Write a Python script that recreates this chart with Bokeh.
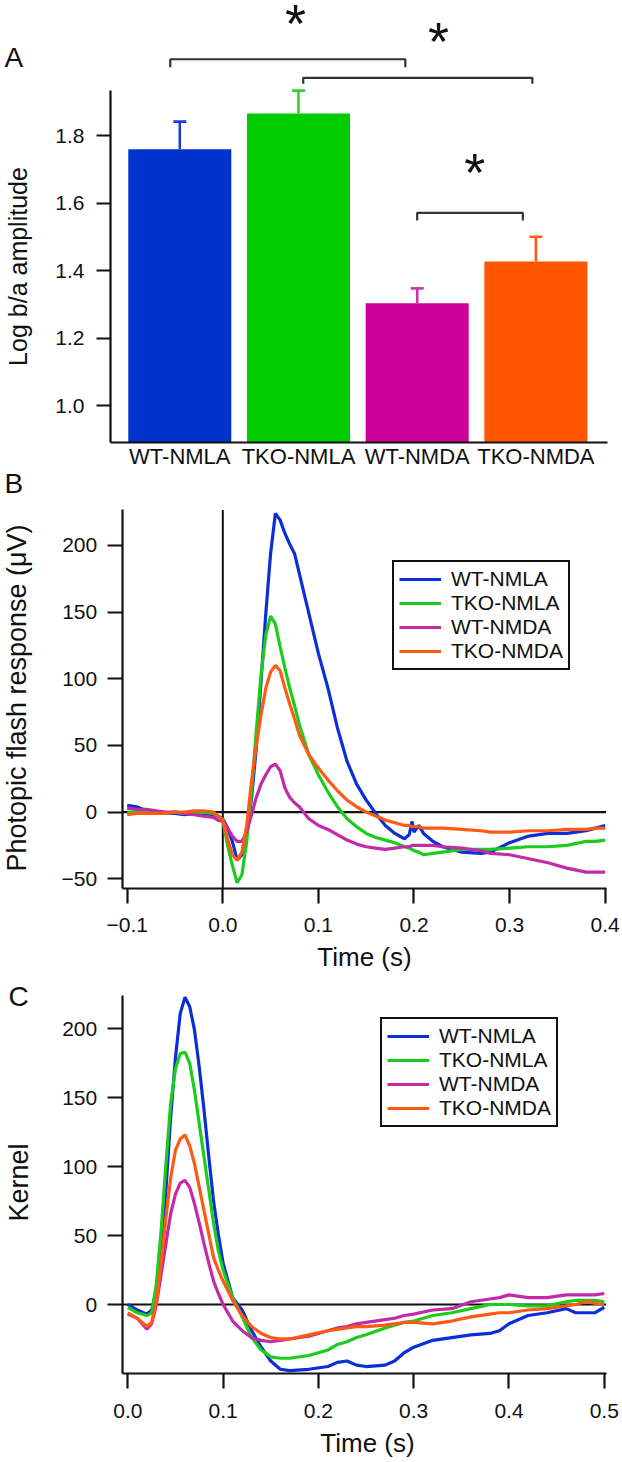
import math
from bokeh.plotting import figure
from bokeh.layouts import column
from bokeh.models import (FixedTicker, NumeralTickFormatter, Legend, LegendItem,
                          Label, ColumnDataSource)
from bokeh.core.properties import value
from bokeh.embed import file_html
from bokeh.resources import INLINE

FONT = "Liberation Sans"

# ---------------- Panel A data ----------------
groups = ["WT-NMLA", "TKO-NMLA", "WT-NMDA", "TKO-NMDA"]
bar_means = [1.759, 1.865, 1.303, 1.427]
bar_se = [0.082, 0.068, 0.044, 0.073]
bar_colors = ["#0033cc", "#00cc00", "#cc0099", "#ff5500"]
err_colors = ["#1a3fd0", "#33cc33", "#cc33aa", "#ff5a1a"]
a_yticks = [1.0, 1.2, 1.4, 1.6, 1.8]
a_ylim = (0.891, 1.933)
a_xlim = (-0.584, 3.607)
# significance brackets (group index span, bracket level)
br_x0 = [-0.08, 1.04, 2.00]
br_x1 = [1.90, 2.97, 2.89]
br_y = [2.026, 1.971, 1.571]
br_drop = [0.024, 0.018, 0.023]
star_x = [0.975, 2.18, 2.485]
star_y = [2.147, 2.096, 1.706]

# ---------------- Panel B data ----------------
tB = [-0.1, -0.09, -0.08, -0.07, -0.06, -0.05, -0.04, -0.03, -0.02, -0.01, -0.005, 0.0,
      0.005, 0.01, 0.015, 0.02, 0.025, 0.03, 0.035, 0.04, 0.045, 0.05, 0.055, 0.06,
      0.065, 0.07, 0.075, 0.08, 0.09, 0.1, 0.11, 0.12, 0.13, 0.14, 0.15, 0.16, 0.17,
      0.18, 0.19, 0.195, 0.198, 0.2, 0.205, 0.21, 0.22, 0.23, 0.25, 0.27, 0.28, 0.3,
      0.32, 0.34, 0.36, 0.38, 0.39, 0.4]
b_wt_nmla = [5, 4, 1, 0, -1, -1, -2, -1, -1, -2, -3, -5,
             -12, -22, -36, -32, -15, 10, 48, 98, 149, 194, 224, 219,
             209, 201, 194, 179, 149, 119, 93, 63, 38, 21, 9, -1, -10,
             -16, -20, -17, -7, -15, -10, -16, -22, -26, -30, -31, -30, -23,
             -18, -16, -16, -14, -12, -10]
b_tko_nmla = [0, 0, 0, -1, -1, 0, -1, -1, 0, -1, -3, -6,
              -25, -40, -53, -47, -22, 15, 61, 103, 133, 147, 141, 124,
              108, 93, 80, 66, 43, 28, 15, 4, -5, -11, -16, -19, -21,
              -23, -26, -27, -28, -29, -30, -32, -31, -30, -28, -28, -28, -27,
              -26, -26, -25, -22, -22, -21]
b_wt_nmda = [3, 2, 2, 1, 0, 0, -1, -2, -3, -4, -6, -7,
             -12, -18, -22, -22, -15, -2, 11, 21, 28, 34, 36, 31,
             18, 11, 7, 4, -5, -10, -13, -17, -21, -24, -26, -27, -28,
             -27, -26, -26, -25, -25, -25, -25, -25, -26, -27, -29, -31, -32,
             -35, -38, -42, -45, -45, -45]
b_tko_nmda = [-2, -1, -1, -1, -1, 0, 0, 1, 1, 0, -3, -6,
              -20, -32, -36, -30, -10, 23, 50, 73, 93, 105, 110, 106,
              93, 81, 70, 58, 43, 33, 24, 16, 9, 4, 0, -3, -6,
              -8, -10, -10, -11, -11, -11, -12, -12, -12, -13, -14, -15, -15,
              -14, -14, -13, -13, -12, -12]
b_xticks = [-0.1, 0.0, 0.1, 0.2, 0.3, 0.4]
b_yticks = [-50, 0, 50, 100, 150, 200]
b_xlim = (-0.1052, 0.4010)
b_ylim = (-57.0, 226.6)

# ---------------- Panel C data ----------------
tC = [0.0, 0.01, 0.02, 0.025, 0.03, 0.035, 0.04, 0.045, 0.05, 0.055, 0.06, 0.065,
      0.07, 0.075, 0.08, 0.085, 0.09, 0.095, 0.1, 0.11, 0.12, 0.13, 0.14, 0.15,
      0.16, 0.17, 0.19, 0.21, 0.22, 0.23, 0.24, 0.25, 0.27, 0.28, 0.29, 0.3,
      0.32, 0.34, 0.36, 0.38, 0.39, 0.4, 0.42, 0.44, 0.46, 0.47, 0.48, 0.49, 0.5]
c_wt_nmla = [0, -4, -7, -4, 10, 39, 83, 136, 179, 211, 223, 216,
             199, 172, 141, 107, 75, 51, 30, 5, -4, -19, -31, -41,
             -47, -48, -47, -45, -42, -41, -44, -45, -44, -41, -35, -31,
             -26, -24, -22, -21, -19, -14, -8, -6, -3, -6, -6, -6, -2]
c_tko_nmla = [-2, -6, -8, -6, 15, 54, 102, 146, 171, 182, 183, 175,
              155, 131, 107, 83, 59, 39, 25, 5, -9, -24, -33, -38,
              -39, -39, -37, -33, -29, -27, -24, -22, -17, -15, -13, -12,
              -8, -6, -3, 0, 0, 0, -1, -1, 2, 3, 3, 3, 2]
c_wt_nmda = [-7, -10, -18, -14, 0, 22, 44, 66, 80, 88, 90, 85,
             73, 59, 44, 30, 17, 8, 0, -12, -19, -24, -26, -27,
             -26, -25, -23, -19, -17, -16, -14, -13, -11, -10, -8, -7,
             -4, -3, 2, 4, 5, 7, 5, 5, 7, 7, 7, 7, 8]
c_tko_nmda = [-6, -10, -16, -13, 2, 30, 63, 92, 112, 120, 123, 115,
              102, 85, 68, 51, 34, 25, 17, 3, -8, -16, -21, -24,
              -25, -25, -22, -19, -18, -17, -16, -16, -15, -14, -13, -13,
              -14, -12, -9, -7, -6, -6, -4, -3, -1, 0, 2, 1, 0]
c_xticks = [0.0, 0.1, 0.2, 0.3, 0.4, 0.5]
c_yticks = [0, 50, 100, 150, 200]
c_xlim = (-0.0059, 0.5018)
c_ylim = (-50.3, 223.9)

line_colors = ["#0a2fd6", "#1ccc1c", "#c22aa8", "#ff5a14"]

TICK_FS = "21px"
INK = "#111111"
W = 622


def make_fig(h, xr, yr, xloc, yloc, xb, yb):
    # the frame covers the whole canvas; the axes sit at fixed data locations inside it
    p = figure(width=W, height=h, x_range=xr, y_range=yr, min_border=0,
               min_border_left=0, min_border_right=0, min_border_top=0, min_border_bottom=0,
               title_location=None, output_backend="svg", toolbar_location=None)
    for ax in (p.xaxis[0], p.yaxis[0]):
        ax.axis_line_width = 2.2
        ax.axis_line_color = INK
        ax.major_tick_line_width = 2.2
        ax.major_tick_line_color = INK
        ax.major_tick_in = 0
        ax.major_tick_out = 15
        ax.minor_tick_line_color = None
        ax.major_label_text_font = FONT
        ax.major_label_text_font_size = TICK_FS
        ax.major_label_text_color = INK
        ax.major_label_standoff = 10
    p.xaxis.fixed_location = xloc
    p.yaxis.fixed_location = yloc
    p.xaxis.bounds = xb
    p.yaxis.bounds = yb
    p.grid.visible = False
    p.outline_line_color = None
    p.background_fill_color = "white"
    p.border_fill_color = "white"
    return p


def add_text(p, text, x, y, size, angle=0.0, align="left", baseline="alphabetic"):
    # x, y are screen offsets from the canvas' bottom-left corner
    p.add_layout(Label(x=x, y=y, x_units="screen", y_units="screen", text=text,
                       angle=angle, text_align=align, text_baseline=baseline,
                       text_font=FONT, text_font_size=size, text_color=INK))


# ================= Panel A (page y 0..469) =================
HA = 469
pA = make_fig(HA, (-1.5105, 3.7296), (1.0 - (HA - 405) / 337.5, 2.2), a_ylim[0], a_xlim[0], a_xlim, a_ylim)
xs = list(range(len(groups)))
srcA = ColumnDataSource(dict(x=xs, top=bar_means, color=bar_colors, ecolor=err_colors,
                             up=[m + s for m, s in zip(bar_means, bar_se)]))
pA.vbar(x="x", top="top", bottom=a_ylim[0], width=0.868, fill_color="color", line_color=None, source=srcA)
pA.segment(x0="x", y0="top", x1="x", y1="up", line_color="ecolor", line_width=2.6, source=srcA)
pA.scatter(x="x", y="up", marker="dash", size=13, line_color="ecolor", line_width=2.6, source=srcA)
for x0, x1, yb, d in zip(br_x0, br_x1, br_y, br_drop):
    pA.line(x=[x0, x0, x1, x1], y=[yb - d, yb, yb, yb - d], line_color="#333333", line_width=2.2)
pA.text(x=star_x, y=star_y, text=["*"] * 3, text_font=value(FONT), text_font_size="54px",
        text_align="center", text_baseline="middle", y_offset=5, text_color=INK)
pA.xaxis.ticker = FixedTicker(ticks=xs)
pA.xaxis.major_label_overrides = {i: g for i, g in enumerate(groups)}
pA.xaxis.major_tick_line_color = None
pA.xaxis.major_tick_out = 0
pA.xaxis.major_label_text_font_size = "22px"
pA.xaxis.major_label_standoff = 2
pA.yaxis.ticker = FixedTicker(ticks=a_yticks)
pA.yaxis.formatter = NumeralTickFormatter(format="0.0")
pA.yaxis.major_tick_out = 14
pA.yaxis.major_label_standoff = 12
add_text(pA, "Log b/a amplitude", 17, HA - 266, "25px", angle=math.pi / 2, align="center", baseline="middle")
add_text(pA, "A", 4, HA - 57, "28px")


def line_panel(h, t, series, xr, yr, xlim, ylim, xticks, yticks, legend_loc, vzero):
    p = make_fig(h, xr, yr, ylim[0], xlim[0], xlim, ylim)
    p.line(x=list(xlim), y=[0, 0], line_color=INK, line_width=2.2)
    if vzero:
        p.line(x=[0, 0], y=list(ylim), line_color=INK, line_width=2.0)
    items = []
    for name, ys, c in zip(groups, series, line_colors):
        r = p.line(x=t, y=ys, line_color=c, line_width=3.2)
        items.append(LegendItem(label=name, renderers=[r]))
    leg = Legend(items=items, location=legend_loc, border_line_color=INK,
                 border_line_width=2, border_line_alpha=1.0, background_fill_alpha=1.0,
                 label_text_font=FONT, label_text_color=INK, label_text_line_height=1.0,
                 label_text_font_size="21px", label_height=22, glyph_height=22,
                 glyph_width=42, label_standoff=10, spacing=0, padding=5, margin=0)
    p.add_layout(leg)
    p.xaxis.ticker = FixedTicker(ticks=xticks)
    p.xaxis.formatter = NumeralTickFormatter(format="0.0")
    p.xaxis.major_label_overrides = {v: "\u2212" + format(-v, ".1f") for v in xticks if v < 0}
    p.xaxis.major_label_standoff = 15
    p.yaxis.ticker = FixedTicker(ticks=yticks)
    p.yaxis.major_label_overrides = {v: "\u2212" + str(-v) for v in yticks if v < 0}
    return p


# ================= Panel B (page y 469..971) =================
HB = 502
pB = line_panel(HB, tB, [b_wt_nmla, b_tko_nmla, b_wt_nmda, b_tko_nmda], (-0.23253, 0.41810),
                (-(971 - 811.6) / 1.3333, (811.6 - 469) / 1.3333), b_xlim, b_ylim, b_xticks, b_yticks,
                (392, 301), True)
add_text(pB, "Photopic flash response (\u03bcV)", 16, 273.5, "27px", angle=math.pi / 2,
         align="center", baseline="middle")
add_text(pB, "Time (s)", 364, 15, "26px", align="center", baseline="middle")
add_text(pB, "B", 4, 488, "28px")

# ================= Panel C (page y 971..1459) =================
HC = 488
pC = line_panel(HC, tC, [c_wt_nmla, c_tko_nmla, c_wt_nmda, c_tko_nmda], (-0.13358, 0.51910),
                (-(1459 - 1304) / 1.3785, (1304 - 971) / 1.3785), c_xlim, c_ylim, c_xticks, c_yticks,
                (380, 332), False)
add_text(pC, "Kernel", 18, 277, "27px", angle=math.pi / 2, align="center", baseline="middle")
add_text(pC, "Time (s)", 367, 17, "26px", align="center", baseline="middle")
add_text(pC, "C", 8, 463, "28px")

layout = column(pA, pB, pC, spacing=0)
open("out.html", "w").write(file_html(layout, INLINE))
